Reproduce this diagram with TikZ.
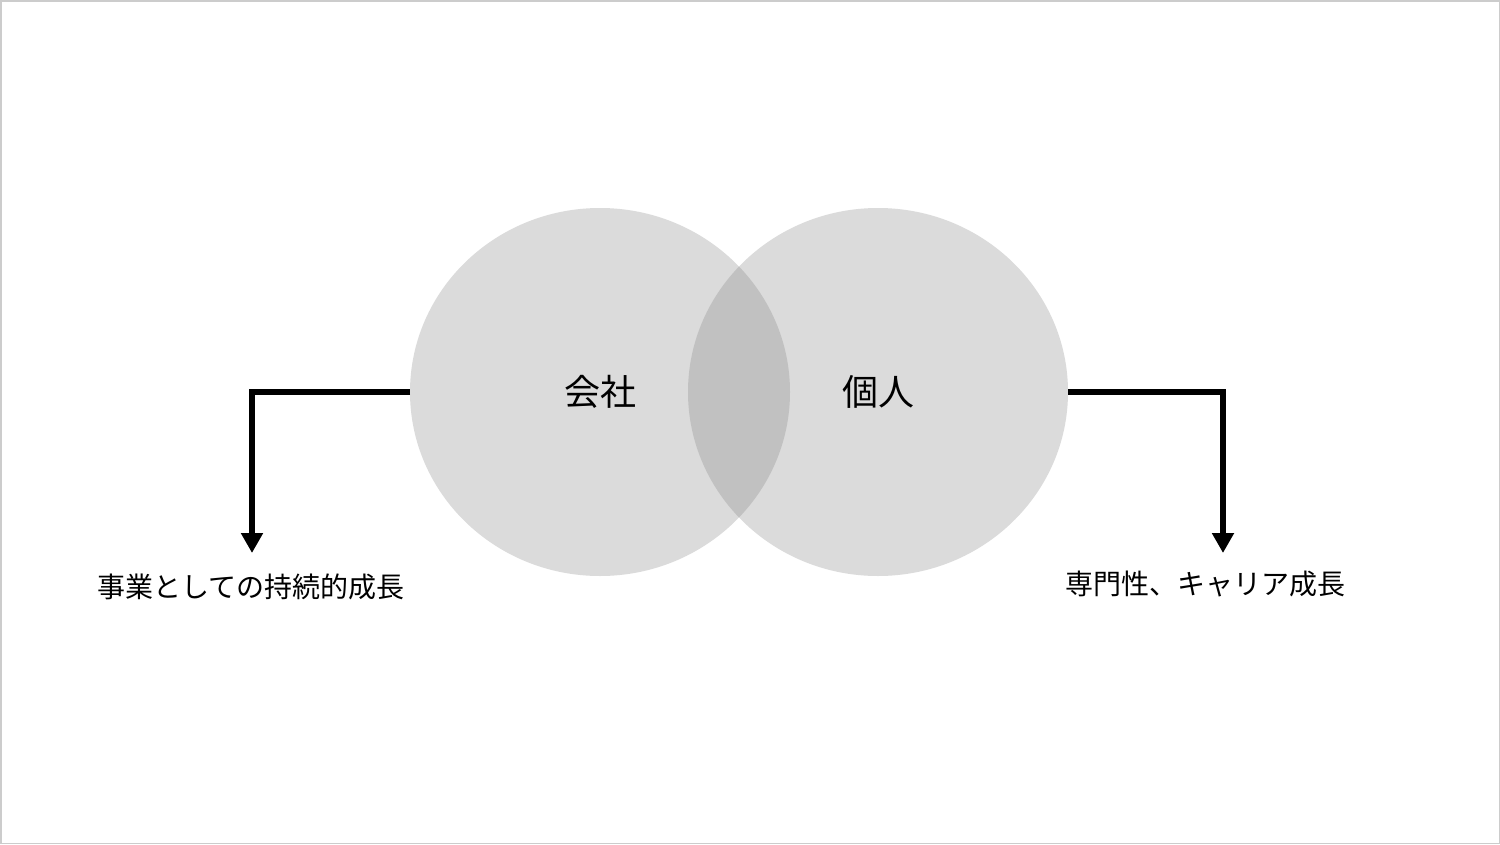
\documentclass[tikz,border=0pt]{standalone}
\usepackage{fontspec}
\newfontfamily\jp{Noto Sans CJK JP}
\usetikzlibrary{arrows.meta}
\definecolor{circ}{HTML}{DBDBDB}
\definecolor{overl}{HTML}{C1C1C1}
\begin{document}
\begin{tikzpicture}[x=1pt,y=-1pt,
  venn/.style={fill=circ,draw=none},
  conn/.style={line width=6pt,-{Triangle[width=21pt,length=20pt]}},
  lbl/.style={font=\jp\fontsize{28}{32}\selectfont,text=black,inner sep=0pt},
  big/.style={font=\jp\fontsize{36}{40}\selectfont,text=black,inner sep=0pt}]
\fill[white] (0,0) rectangle (1500,844);
\draw[line width=1.5pt,color=black!20] (0.75,0.75) rectangle (1499.25,843.25);
\path[venn] (600,392) ellipse [x radius=190,y radius=184];
\path[venn] (878,392) ellipse [x radius=190,y radius=184];
\begin{scope}
\clip (600,392) ellipse [x radius=190,y radius=184];
\fill[overl] (878,392) ellipse [x radius=190,y radius=184];
\end{scope}
\coordinate (cl) at (410,392);
\coordinate (cr) at (1068,392);
\node[big] (kaisha) at (600,392) {会社};
\node[big] (kojin) at (878,392) {個人};
\node[lbl] (ll) at (251,587) {事業としての持続的成長};
\node[lbl] (rl) at (1205,584) {専門性、キャリア成長};
\coordinate (la) at (252,553);
\coordinate (ra) at (1223,553);
\draw[conn] (cl) -- (252,392) -- (la);
\draw[conn] (cr) -- (1223,392) -- (ra);
\end{tikzpicture}
\end{document}
